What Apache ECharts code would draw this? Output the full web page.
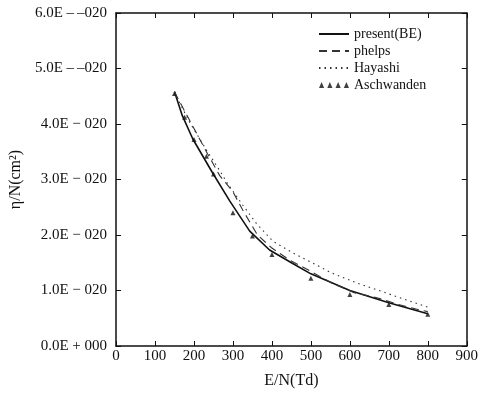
<!DOCTYPE html>
<html><head><meta charset="utf-8">
<script src="https://cdn.jsdelivr.net/npm/echarts@6/dist/echarts.min.js"></script>
<style>html,body{margin:0;padding:0;background:#fff}#c{width:481px;height:394px}</style>
</head><body><div id="c"></div>
<script>
// values in units of 1E-020 cm^2
const presentE = [150, 170, 197, 246, 292, 343, 394, 450, 500, 600, 700, 800];
const presentV = [4.58, 4.15, 3.73, 3.14, 2.61, 2.07, 1.73, 1.50, 1.30, 1.00, 0.78, 0.58];
const phelpsE = [150, 164, 235, 266, 299, 325, 363, 399, 445, 496, 552, 611, 667, 719, 785, 800];
const phelpsV = [4.58, 4.39, 3.46, 3.07, 2.79, 2.45, 2.00, 1.77, 1.55, 1.36, 1.14, 0.96, 0.875, 0.76, 0.64, 0.62];
const hayashiE = [150, 156, 189, 233, 266, 286, 325, 360, 402, 453, 514, 552, 616, 675, 726, 800];
const hayashiV = [4.58, 4.48, 4.03, 3.52, 3.16, 2.93, 2.54, 2.21, 1.89, 1.68, 1.46, 1.32, 1.14, 1.00, 0.875, 0.70];
const aschE = [150, 176, 200, 232, 250, 300, 350, 400, 500, 600, 700, 800];
const aschV = [4.55, 4.12, 3.72, 3.42, 3.10, 2.40, 1.98, 1.65, 1.22, 0.93, 0.75, 0.57];
const yTickLabels = ['0.0E + 000', '1.0E \u2212 020', '2.0E \u2212 020', '3.0E \u2212 020', '4.0E \u2212 020', '5.0E \u2012\u2009\u2012020', '6.0E \u2012\u2009\u2012020'];
const names = ['present(BE)', 'phelps', 'Hayashi', 'Aschwanden'];

const pair = (xs, ys) => xs.map((x, i) => [x, ys[i]]);
const font = 'Liberation Serif';
const ashIcon = 'path://M0,10L2.5,4L5,10ZM8,10L10.5,4L13,10ZM16,10L18.5,4L21,10ZM24,10L26.5,4L29,10Z';
const hideSym = {opacity: 0};

const chart = echarts.init(document.getElementById('c'));
chart.setOption({
  animation: false,
  backgroundColor: '#fff',
  grid: {left: 116, right: 13, top: 13, bottom: 45},
  legend: {
    left: 313, top: 22, orient: 'vertical', itemGap: 3, itemWidth: 30, itemHeight: 14,
    textStyle: {fontFamily: font, fontSize: 14, color: '#111'},
    data: [
      {name: names[0], itemStyle: hideSym},
      {name: names[1], itemStyle: hideSym},
      {name: names[2], itemStyle: hideSym},
      {name: names[3], icon: ashIcon, itemStyle: {color: '#111'}}
    ]
  },
  xAxis: [{
    type: 'value', min: 0, max: 900, interval: 100,
    name: 'E/N(Td)', nameLocation: 'middle', nameGap: 27,
    nameTextStyle: {fontFamily: font, fontSize: 16, color: '#111'},
    axisLine: {onZero: false, lineStyle: {color: '#111', width: 1.5}},
    axisTick: {inside: true, length: 5, lineStyle: {color: '#111'}},
    axisLabel: {fontFamily: font, fontSize: 15, color: '#111', margin: 3},
    splitLine: {show: false}
  }, {
    type: 'value', min: 0, max: 900, interval: 100, position: 'top',
    axisLine: {show: true, onZero: false, lineStyle: {color: '#111', width: 1.5}},
    axisTick: {show: true, inside: true, length: 5, lineStyle: {color: '#111'}},
    axisLabel: {show: false}, splitLine: {show: false}
  }],
  yAxis: [{
    type: 'value', min: 0, max: 6, interval: 1,
    name: '\u03b7/N(cm\u00b2)', nameLocation: 'middle', nameGap: 82, nameRotate: 90,
    nameTextStyle: {fontFamily: font, fontSize: 16, color: '#111'},
    axisLine: {show: true, onZero: false, lineStyle: {color: '#111', width: 1.5}},
    axisTick: {show: true, inside: true, length: 5, lineStyle: {color: '#111'}},
    axisLabel: {fontFamily: font, fontSize: 15, color: '#111', margin: 9,
      formatter: v => yTickLabels[Math.round(v)]},
    splitLine: {show: false}
  }, {
    type: 'value', min: 0, max: 6, interval: 1, position: 'right',
    axisLine: {show: true, onZero: false, lineStyle: {color: '#111', width: 1.5}},
    axisTick: {show: true, inside: true, length: 5, lineStyle: {color: '#111'}},
    axisLabel: {show: false}, splitLine: {show: false}
  }],
  series: [
    {name: names[0], type: 'line', data: pair(presentE, presentV), showSymbol: false, symbol: 'none',
     lineStyle: {color: '#111', width: 1.6, type: 'solid'}, itemStyle: {color: '#111'}},
    {name: names[1], type: 'line', data: pair(phelpsE, phelpsV), showSymbol: false, symbol: 'none',
     lineStyle: {color: '#333', width: 1.1, type: [8, 5]}, itemStyle: {color: '#333'}},
    {name: names[2], type: 'line', data: pair(hayashiE, hayashiV), showSymbol: false, symbol: 'none',
     lineStyle: {color: '#333', width: 1.1, type: [1.5, 4]}, itemStyle: {color: '#333'}},
    {name: names[3], type: 'scatter', data: pair(aschE, aschV), symbol: 'triangle', symbolSize: 5,
     itemStyle: {color: '#111'}}
  ]
});
</script></body></html>
